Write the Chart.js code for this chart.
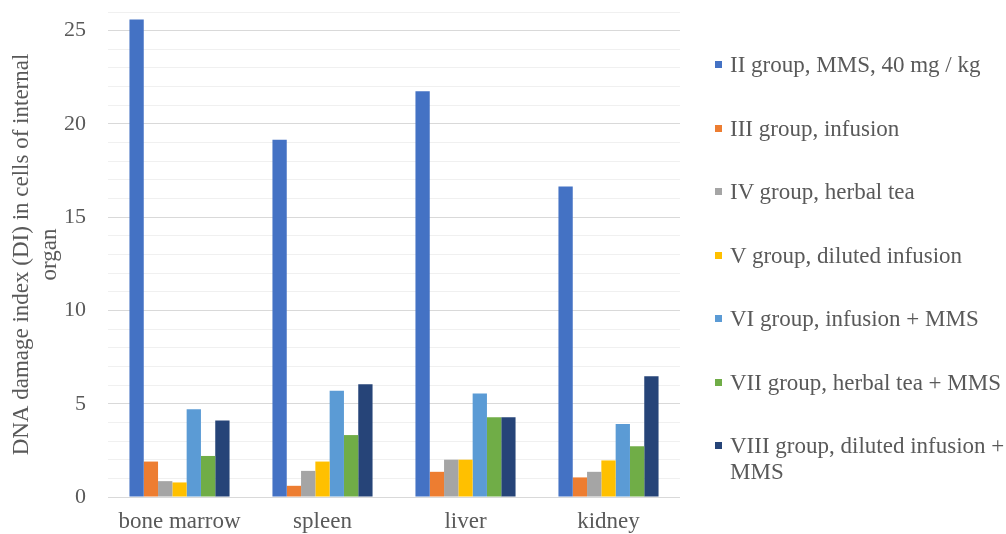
<!DOCTYPE html>
<html>
<head>
<meta charset="utf-8">
<script src="https://cdn.jsdelivr.net/npm/chart.js@4.4.1/dist/chart.umd.min.js"></script>
<style>
  html, body { margin: 0; padding: 0; background: #ffffff; }
  #wrap { position: relative; width: 1006px; height: 534px; overflow: hidden; }
  #legend { position: absolute; left: 715px; top: 33px; font-family: "Liberation Serif", "Times New Roman", serif; font-size: 23px; color: #595959; }
  .item { position: relative; height: 63.5px; }
  .box { position: absolute; left: 0; width: 7px; height: 7px; top: 28px; }
  .txt { position: absolute; left: 15px; top: 19px; white-space: nowrap; line-height: 26px; }
</style>
</head>
<body>
<div id="wrap">
  <canvas id="c" width="1006" height="534"></canvas>
  <div id="legend"></div>
</div>
<script>
const categories = ["bone marrow", "spleen", "liver", "kidney"];
const seriesNames = [
  "II group, MMS, 40 mg / kg",
  "III group, infusion",
  "IV group, herbal tea",
  "V group, diluted infusion",
  "VI group, infusion + MMS",
  "VII group, herbal tea + MMS",
  ["VIII group, diluted infusion +", "MMS"]
];
const seriesColors = ["#4472C4", "#ED7D31", "#A5A5A5", "#FFC000", "#5B9BD5", "#70AD47", "#264478"];
const groupII   = [25.6, 19.15, 21.75, 16.65];
const groupIII  = [1.9, 0.6, 1.35, 1.05];
const groupIV   = [0.85, 1.4, 2.0, 1.35];
const groupV    = [0.78, 1.9, 2.0, 1.96];
const groupVI   = [4.7, 5.7, 5.55, 3.92];
const groupVII  = [2.2, 3.32, 4.27, 2.72];
const groupVIII = [4.1, 6.05, 4.27, 6.47];
const seriesValues = [groupII, groupIII, groupIV, groupV, groupVI, groupVII, groupVIII];
const yTickLabels = [0, 5, 10, 15, 20, 25];
const yMax = 26;

const font = "'Liberation Serif', 'Times New Roman', serif";
const textColor = "#595959";

const datasets = seriesValues.map((vals, i) => ({
  label: Array.isArray(seriesNames[i]) ? seriesNames[i].join(" ") : seriesNames[i],
  data: vals,
  backgroundColor: seriesColors[i],
  borderWidth: 0,
  barPercentage: 1.0,
  categoryPercentage: 0.7
}));

new Chart(document.getElementById("c"), {
  type: "bar",
  data: { labels: categories, datasets },
  options: {
    responsive: false,
    animation: false,
    layout: { padding: { left: 6, right: 326, top: 12, bottom: 0 } },
    plugins: { legend: { display: false }, tooltip: { enabled: false } },
    scales: {
      x: {
        grid: { display: false, drawTicks: false },
        border: { display: false },
        ticks: { color: textColor, font: { family: font, size: 23 }, padding: 11 },
        afterFit: s => { s.height = 37; s.paddingLeft = 0; s.paddingRight = 0; }
      },
      y: {
        min: 0, max: yMax,
        border: { display: false },
        grid: {
          drawTicks: false,
          color: ctx => (yTickLabels.includes(ctx.tick.value) ? "#d9d9d9" : "#f0f0f0"),
          lineWidth: 1
        },
        ticks: {
          stepSize: 1, autoSkip: false, padding: 22,
          color: textColor, font: { family: font, size: 22 },
          callback: v => (yTickLabels.includes(v) ? String(v) : "")
        },
        title: {
          display: true,
          text: ["DNA damage index (DI) in cells of internal", "organ"],
          color: textColor,
          font: { family: font, size: 23, lineHeight: 1.217 },
          padding: { top: 2, bottom: 2 }
        },
        afterFit: s => { s.width = 102; s.paddingTop = 0; s.paddingBottom = 0; }
      }
    }
  }
});

const legend = document.getElementById("legend");
seriesNames.forEach((name, i) => {
  const item = document.createElement("div");
  item.className = "item";
  const box = document.createElement("div");
  box.className = "box";
  box.style.background = seriesColors[i];
  const txt = document.createElement("div");
  txt.className = "txt";
  const lines = Array.isArray(name) ? name : [name];
  lines.forEach((l, k) => {
    if (k > 0) txt.appendChild(document.createElement("br"));
    txt.appendChild(document.createTextNode(l));
  });
  item.appendChild(box);
  item.appendChild(txt);
  legend.appendChild(item);
});
</script>
</body>
</html>
